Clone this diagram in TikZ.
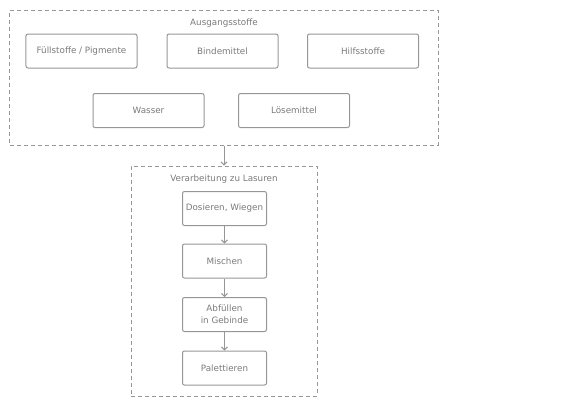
\documentclass[tikz,border=0pt]{standalone}
\usepackage{fontspec}
\setmainfont{DejaVu Sans}
\usetikzlibrary{arrows.meta}
\definecolor{linegray}{HTML}{969696}
\definecolor{textgray}{HTML}{7A7A7A}
\begin{document}
\begin{tikzpicture}[x=1bp,y=-1bp,
  every node/.style={font=\fontsize{8.8}{12}\selectfont,text=textgray},
  stoff/.style={draw=linegray,line width=1bp,rounded corners=2bp,minimum width=111bp,minimum height=34bp,inner sep=0pt},
  schritt/.style={stoff,minimum width=84bp,align=center},
  gruppe/.style={draw=linegray,line width=1bp,dash pattern=on 4bp off 3bp,inner sep=0pt},
  pfeil/.style={draw=linegray,line width=1bp,-{Straight Barb[length=3bp,width=6bp]}}]
 \useasboundingbox (0,0) rectangle (587,401);
 % Ausgangsstoffe
 \node[gruppe,minimum width=428bp,minimum height=135bp] (stoffe) at (224,77.5) {};
 \node (stoffetitel) at (224,23) {Ausgangsstoffe};
 \node[stoff] (fuell) at (81.5,51) {Füllstoffe / Pigmente};
 \node[stoff] (binde) at (222.5,51) {Bindemittel};
 \node[stoff] (hilfs) at (363,51) {Hilfsstoffe};
 \node[stoff] (wasser) at (148.5,110.5) {Wasser};
 \node[stoff] (loese) at (294,110.5) {Lösemittel};
 % Verarbeitung
 \node[gruppe,minimum width=186bp,minimum height=230bp] (verarb) at (224,281) {};
 \node (verarbtitel) at (224,179) {Verarbeitung zu Lasuren};
 \node[schritt] (dosieren) at (224.5,208.5) {Dosieren, Wiegen};
 \node[schritt] (mischen) at (224.5,261) {Mischen};
 \node[schritt] (abfuellen) at (224.5,314.5) {Abfüllen\\in Gebinde};
 \node[schritt] (palett) at (224.5,368) {Palettieren};
 \draw[pfeil] (stoffe.south) -- (verarb.north);
 \draw[pfeil] (dosieren) -- (mischen);
 \draw[pfeil] (mischen) -- (abfuellen);
 \draw[pfeil] (abfuellen) -- (palett);
\end{tikzpicture}
\end{document}
